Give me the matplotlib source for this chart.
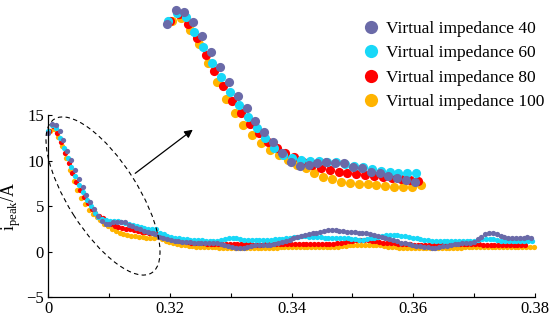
import numpy as np
import matplotlib
matplotlib.use("Agg")
import matplotlib.pyplot as plt
from matplotlib.patches import Ellipse, FancyArrowPatch
from matplotlib.lines import Line2D

plt.rcParams['font.family'] = ['Liberation Serif', 'DejaVu Serif']
plt.rcParams['mathtext.fontset'] = 'custom'
plt.rcParams['mathtext.rm'] = 'Liberation Serif'

# sampling step of the peak current (s) and start time of every series
dt = 0.00063
labels = ['Virtual impedance 40', 'Virtual impedance 60',
          'Virtual impedance 80', 'Virtual impedance 100']
colors = ['#6a6aa8', '#18d8f8', '#ff0000', '#ffb400']
t_start = [0.30, 0.30008, 0.30024, 0.30041]

z40 = [13.11, 14.11, 13.98, 13.27, 12.25, 11.14, 10.07, 9.00, 8.01, 7.12, 6.23, 5.45, 4.74,
       3.96, 3.32, 3.03, 3.08, 3.21, 3.28, 3.25, 3.21, 2.96, 2.85, 2.61, 2.49, 2.30, 2.14,
       2.02, 1.90,
       1.65, 1.5, 1.4, 1.3, 1.22, 1.15, 1.1, 1.06, 1.03, 1.0, 0.98, 0.97, 0.96, 0.95, 0.94,
       0.92, 0.88, 0.75, 0.6, 0.48, 0.42, 0.4, 0.42, 0.5, 0.62, 0.7, 0.72, 0.72, 0.74, 0.78,
       0.85, 0.95, 1.08, 1.2, 1.32, 1.45, 1.58, 1.7, 1.8, 1.9, 2.0, 2.1, 2.2, 2.3, 2.38, 2.4,
       2.35, 2.28, 2.22, 2.18, 2.15, 2.12, 2.08, 2.05, 2.0, 1.92, 1.82, 1.72, 1.62, 1.5, 1.38,
       1.25, 1.12, 1.0, 0.9, 0.8, 0.72, 0.65, 0.58, 0.52, 0.47, 0.44, 0.45, 0.5, 0.58, 0.66,
       0.74, 0.8, 0.85, 0.9, 0.95, 1.0, 1.1, 1.35, 1.65, 1.9, 2.02, 2.0, 1.9, 1.75, 1.6, 1.5,
       1.45, 1.45, 1.5, 1.55, 1.57, 1.55]
z60 = [13.3, 13.9, 13.58, 12.56, 11.45, 10.36, 9.31, 8.29, 7.35, 6.52, 5.74, 4.98, 4.31,
       3.79, 3.55, 3.44, 3.39, 3.37, 3.32, 3.28, 3.16, 3.03, 2.92, 2.80, 2.68, 2.61, 2.54,
       2.54, 2.49,
       2.1, 1.9, 1.75, 1.62, 1.52, 1.45, 1.4, 1.35, 1.32, 1.3, 1.27, 1.25, 1.2, 1.17, 1.15,
       1.2, 1.3, 1.42, 1.5, 1.52, 1.48, 1.4, 1.33, 1.3, 1.28, 1.28, 1.28, 1.3, 1.3, 1.32,
       1.35, 1.38, 1.42, 1.48, 1.55, 1.6, 1.65, 1.68, 1.68, 1.66, 1.63, 1.6, 1.56, 1.53, 1.5,
       1.5, 1.5, 1.5, 1.48, 1.45, 1.4, 1.35, 1.3, 1.3, 1.35, 1.45, 1.55, 1.65, 1.75, 1.8,
       1.82, 1.82, 1.8, 1.75, 1.68, 1.6, 1.52, 1.45, 1.38, 1.3, 1.25, 1.2, 1.18, 1.16, 1.15,
       1.15, 1.15, 1.15, 1.15, 1.15, 1.16, 1.18, 1.22, 1.28, 1.35, 1.4, 1.4, 1.36, 1.3, 1.22,
       1.18, 1.15, 1.13, 1.12, 1.12, 1.12, 1.13, 1.13]
z80 = [13.3, 13.82, 13.11, 12.09, 10.90, 9.79, 8.70, 7.65, 6.76, 5.98, 5.34, 4.74, 4.27,
       3.94, 3.67, 3.30, 3.08, 2.87, 2.73, 2.61, 2.54, 2.44, 2.37, 2.30, 2.21, 2.14, 2.09,
       2.02, 1.97,
       1.8, 1.65, 1.52, 1.4, 1.3, 1.2, 1.12, 1.05, 1.0, 0.96, 0.93, 0.9, 0.88, 0.87, 0.86,
       0.85, 0.85, 0.84, 0.82, 0.8, 0.8, 0.8, 0.8, 0.8, 0.78, 0.78, 0.78, 0.8, 0.8, 0.82,
       0.84, 0.85, 0.86, 0.86, 0.86, 0.86, 0.86, 0.86, 0.86, 0.86, 0.86, 0.86, 0.85, 0.85,
       0.86, 0.88, 0.92, 0.98, 1.05, 1.12, 1.2, 1.27, 1.3, 1.3, 1.28, 1.22, 1.15, 1.08, 1.0,
       0.95, 0.92, 0.9, 0.88, 0.85, 0.82, 0.8, 0.78, 0.77, 0.77, 0.77, 0.77, 0.77, 0.78, 0.8,
       0.82, 0.84, 0.86, 0.88, 0.88, 0.86, 0.84, 0.82, 0.8, 0.8, 0.78, 0.78, 0.78, 0.77, 0.77,
       0.77, 0.77, 0.77, 0.77, 0.77, 0.77, 0.77]
z100 = [13.3, 13.51, 12.68, 11.66, 10.36, 9.00, 7.78, 6.76, 5.93, 5.22, 4.63, 4.15, 3.80,
        3.44, 3.08, 2.85, 2.49, 2.23, 2.07, 1.90, 1.81, 1.76, 1.70, 1.63, 1.57, 1.54, 1.53,
        1.54, 1.64,
        1.4, 1.2, 1.05, 0.92, 0.82, 0.74, 0.68, 0.63, 0.59, 0.56, 0.53, 0.51, 0.5, 0.48,
        0.46, 0.45, 0.44, 0.43, 0.42, 0.42, 0.42, 0.42, 0.42, 0.42, 0.42, 0.42, 0.42, 0.42,
        0.43, 0.44, 0.45, 0.46, 0.47, 0.48, 0.48, 0.48, 0.48, 0.48, 0.48, 0.48, 0.48, 0.48,
        0.48, 0.48, 0.5, 0.52, 0.55, 0.6, 0.65, 0.7, 0.74, 0.77, 0.78, 0.78, 0.77, 0.75, 0.72,
        0.68, 0.62, 0.56, 0.5, 0.46, 0.43, 0.42, 0.41, 0.4, 0.4, 0.4, 0.4, 0.4, 0.4, 0.4, 0.4,
        0.4, 0.4, 0.41, 0.42, 0.43, 0.45, 0.47, 0.48, 0.5, 0.5, 0.5, 0.5, 0.5, 0.5, 0.5, 0.5,
        0.5, 0.5, 0.5, 0.5, 0.5, 0.5, 0.5, 0.5, 0.5]
series = [z40, z60, z80, z100]
n_zoom = 29  # points shown enlarged in the inset

xticks = [0.30, 0.31, 0.32, 0.33, 0.34, 0.35, 0.36, 0.37, 0.38]
xticklabels = ['0', '', '0.32', '', '0.34', '', '0.36', '', '0.38']
yticks = [-5, 0, 5, 10, 15]

W, H = 550, 327
fig = plt.figure(figsize=(W / 100, H / 100), dpi=100)
ax = fig.add_axes([48 / W, 30 / H, 487 / W, 181.5 / H])

# draw back to front so the 40 series sits on top
for vals, col, t0 in list(zip(series, colors, t_start))[::-1]:
    t = t0 + dt * np.arange(len(vals))
    ax.plot(t, vals, 'o', ms=3.8, mec='none', color=col, clip_on=False)

ax.set_xlim(0.30, 0.38)
ax.set_ylim(-5, 15)
ax.set_xticks(xticks)
ax.set_xticklabels(xticklabels)
ax.set_yticks(yticks)
ax.tick_params(direction='in', length=3, width=0.8, labelsize=12, pad=3)
for s in ['top', 'right']:
    ax.spines[s].set_visible(False)
for s in ['left', 'bottom']:
    ax.spines[s].set_linewidth(0.9)
ax.set_ylabel(r'$\mathrm{i}_{\mathrm{peak}}$/A', fontsize=13, labelpad=2)

# enlarged view of the first points
ins = fig.add_axes([150 / W, (H - 200) / H, 280 / W, 200 / H])
for vals, col, t0 in list(zip(series, colors, t_start))[::-1]:
    t = t0 + dt * np.arange(n_zoom)
    ins.plot(t, vals[:n_zoom], 'o', ms=6.6, mec='none', color=col, clip_on=False)
ins.set_xlim(0.298814, 0.3187)
ins.set_ylim(0.597, 14.81)
ins.axis('off')

# dashed ellipse and arrow (figure inches)
ell = Ellipse((1.03, (H - 196) / 100), 1.82, 0.70, angle=-57.6, fill=False,
              ls=(0, (4, 3)), lw=0.8, color='black', transform=fig.dpi_scale_trans)
fig.add_artist(ell)
fig.add_artist(FancyArrowPatch(
    (1.33, (H - 175) / 100), (1.95, (H - 128) / 100), arrowstyle='-|>', mutation_scale=12,
    lw=0.9, color='black', transform=fig.dpi_scale_trans))

handles = [Line2D([], [], ls='none', marker='o', ms=9.5, mec='none', color=c) for c in colors]
fig.legend(handles, labels, loc='upper left', bbox_to_anchor=(362 / W, 1 - 21 / H),
           frameon=False, fontsize=12.5, handlelength=1.0, handletextpad=0.4,
           labelspacing=0.47, borderpad=0, borderaxespad=0)

fig.savefig('out.png', dpi=100)
